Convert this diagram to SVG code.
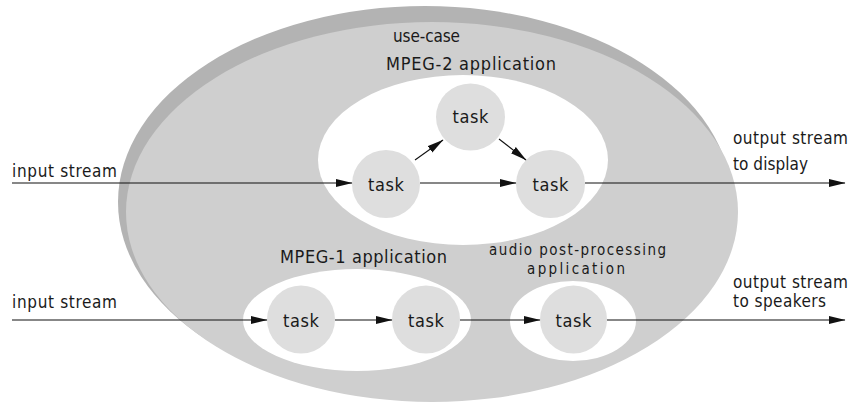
<svg xmlns="http://www.w3.org/2000/svg" width="850" height="405" viewBox="0 0 850 405">
<style>
text{font-family:"DejaVu Sans Condensed","DejaVu Sans","Noto Sans",sans-serif;fill:#1a1a1a;font-size:18px}
.c{text-anchor:middle}
.s{font-size:17px}
.xs{font-size:15px}
.task{fill:#dedede}
.app{fill:#ffffff}
.ln{stroke:#111;stroke-width:1.1;fill:none;marker-end:url(#ah)}
</style>
<defs>
<marker id="ah" markerUnits="userSpaceOnUse" markerWidth="17" markerHeight="9" refX="16" refY="4.5" orient="auto" viewBox="0 0 17 9">
<path d="M0,0.5 L16.5,4.5 L0,8.5 z" fill="#111"/>
</marker>
</defs>
<g id="use-case">
<ellipse cx="425" cy="202" rx="307" ry="196" fill="#b3b3b3"/>
<ellipse cx="432" cy="212" rx="306" ry="190" fill="#cfcfcf"/>
<text x="426.5" y="42" class="c s" textLength="67">use-case</text>
</g>
<g id="mpeg2-app">
<ellipse cx="463" cy="160" rx="145" ry="85" class="app"/>
<text x="471" y="70" class="c" textLength="170">MPEG-2 application</text>
</g>
<g id="mpeg1-app">
<ellipse cx="357" cy="320" rx="114" ry="51" class="app"/>
<text x="363.5" y="263" class="c" textLength="167">MPEG-1 application</text>
</g>
<g id="audio-app">
<ellipse cx="573" cy="321" rx="63" ry="40" class="app"/>
<text x="577.5" y="255" class="c xs" textLength="177">audio post-processing</text>
<text x="576" y="274" class="c xs" textLength="98">application</text>
</g>
<g id="task-top">
<ellipse cx="470.5" cy="117" rx="34.5" ry="33.5" class="task"/>
<text x="470.5" y="123" class="c" textLength="36">task</text>
</g>
<g id="task-left">
<ellipse cx="386" cy="184" rx="34" ry="34" class="task"/>
<text x="386" y="190.5" class="c" textLength="36">task</text>
</g>
<g id="task-right">
<ellipse cx="550.5" cy="184" rx="34.5" ry="34" class="task"/>
<text x="550.5" y="190.5" class="c" textLength="36">task</text>
</g>
<g id="task-m1a">
<ellipse cx="301" cy="319.5" rx="34" ry="34" class="task"/>
<text x="301" y="326.5" class="c" textLength="36">task</text>
</g>
<g id="task-m1b">
<ellipse cx="426" cy="319.5" rx="34" ry="34" class="task"/>
<text x="426" y="326.5" class="c" textLength="36">task</text>
</g>
<g id="task-audio">
<ellipse cx="573.5" cy="319.5" rx="33.5" ry="34" class="task"/>
<text x="573.5" y="326.5" class="c" textLength="36">task</text>
</g>
<g id="io-labels">
<text x="12" y="177" class="s" textLength="105">input stream</text>
<text x="12" y="307.5" class="s" textLength="105">input stream</text>
<text x="733" y="144" class="s" textLength="115">output stream</text>
<text x="733" y="170" class="s" textLength="75">to display</text>
<text x="733" y="288" class="s" textLength="115">output stream</text>
<text x="733" y="307" class="s" textLength="93">to speakers</text>
</g>
<g id="connectors">
<path class="ln" d="M12,183 L352,183"/>
<path class="ln" d="M420,183 L516,183"/>
<path class="ln" d="M415,160 L443,140"/>
<path class="ln" d="M499,139 L526,160"/>
<path class="ln" d="M585,183 L845,183"/>
<path class="ln" d="M12,320 L267,320"/>
<path class="ln" d="M335,320 L392,320"/>
<path class="ln" d="M460,320 L540,320"/>
<path class="ln" d="M607,320 L845,320"/>
</g>
</svg>
